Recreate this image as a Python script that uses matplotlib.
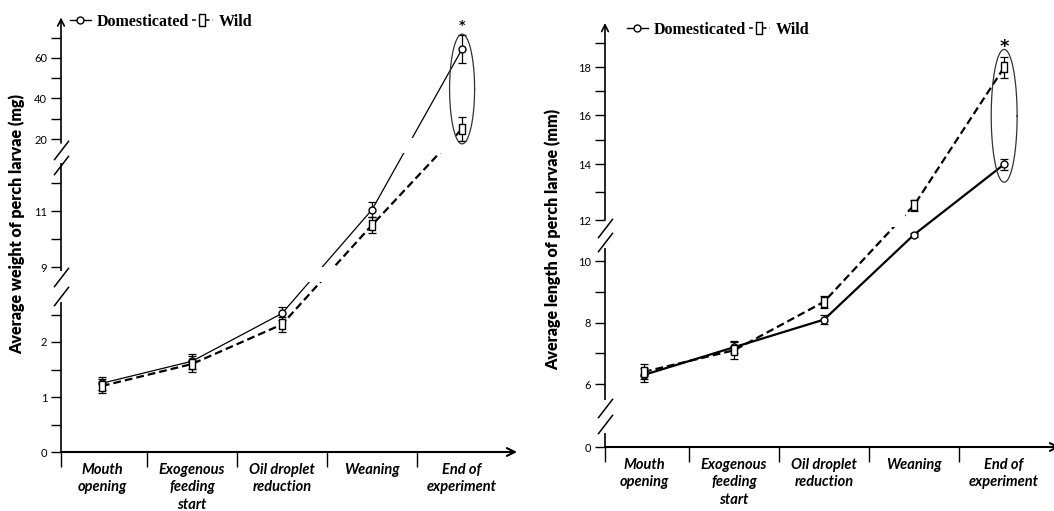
import numpy as np
import matplotlib
matplotlib.use('Agg')
import matplotlib.pyplot as plt
from matplotlib.lines import Line2D
from matplotlib.ticker import FixedLocator, NullFormatter

stages = ['Mouth\nopening', 'Exogenous\nfeeding\nstart', 'Oil droplet\nreduction',
          'Weaning', 'End of\nexperiment']

# weight (mg)
weight_dom = [1.25, 1.65, 2.52, 11.05, 64.4]
weight_dom_err = [0.12, 0.14, 0.12, 0.27, 7.0]
weight_wild = [1.2, 1.6, 2.32, 10.5, 25.0]
weight_wild_err = [0.12, 0.14, 0.14, 0.29, 5.7]

# length (mm)
length_dom = [6.3, 7.2, 8.1, 11.3, 14.0]
length_dom_err = [0.22, 0.2, 0.15, 0.1, 0.2]
length_wild = [6.4, 7.1, 8.68, 12.54, 18.0]
length_wild_err = [0.25, 0.28, 0.2, 0.2, 0.45]

weight_major = [0, 1, 2, 9, 11, 20, 40, 60]
weight_minor = [0.5, 1.5, 2.5, 10, 12, 30, 50, 70]
length_major = [0, 6, 8, 10, 12, 14, 16, 18]
length_minor = [7, 9, 13, 15, 17, 19]

# broken axis: value -> pixel height above the zero line
weight_knots_v = [0, 2.8, 9, 11, 12.8, 20, 60, 80]
weight_knots_d = [0, 154, 185, 241, 291, 313, 394, 434.5]
length_knots_v = [0, 5.4, 10, 12, 14, 16, 18, 20]
length_knots_d = [0, 44.5, 186, 227, 283, 332, 380, 428]


def make_scale(kv, kd):
    kv = np.asarray(kv, float)
    kd = np.asarray(kd, float)

    def pw(x, a, b):
        x = np.asarray(x, float)
        out = np.interp(x, a, b)
        s0 = (b[1] - b[0]) / (a[1] - a[0])
        s1 = (b[-1] - b[-2]) / (a[-1] - a[-2])
        out = np.where(x < a[0], b[0] + (x - a[0]) * s0, out)
        out = np.where(x > a[-1], b[-1] + (x - a[-1]) * s1, out)
        return out

    return (lambda v: pw(v, kv, kd)), (lambda d: pw(d, kd, kv))


serif = dict(family='Liberation Serif', weight='bold', size=11.5)
sans_bi = dict(family='Lato', weight='bold', style='italic', size=10.5)

rect = [(-0.55, -1), (0.55, -1), (0.55, 1), (-0.55, 1), (-0.55, -1)]
slash = [(-1, -1.3), (1, 1.3)]


def panel(ax, dom, dom_err, wild, wild_err, kv, kd, major, minor, ylabel,
          ytop, xlim, segs, arrow_from, slashes, bands, lw_dom, ell, star,
          label_xy, leg_anchor):
    fwd, inv = make_scale(kv, kd)
    ax.set_yscale('function', functions=(fwd, inv))
    x = np.arange(len(stages))
    ax.set_xlim(*xlim)
    ax.set_ylim(0, ytop)

    ax.plot(x, dom, '-', color='k', lw=lw_dom, zorder=2)
    ax.plot(x, wild, color='k', lw=1.6, ls=(0, (3.5, 1.8)), zorder=2)
    for b0, b1, xm in bands:
        ax.axhspan(inv(b0), inv(b1), xmin=0, xmax=xm, color='white', lw=0, zorder=2.5)
    ax.errorbar(x, dom, yerr=dom_err, fmt='none', ecolor='k', elinewidth=0.9,
                capsize=3, capthick=0.9, zorder=3)
    ax.errorbar(x, wild, yerr=wild_err, fmt='none', ecolor='k', elinewidth=0.9,
                capsize=3, capthick=0.9, zorder=3)
    ax.plot(x, dom, ls='none', marker='o', mfc='white', mec='k', ms=5, mew=1, zorder=4)
    ax.plot(x, wild, ls='none', marker=rect, mfc='white', mec='k', ms=7, mew=1, zorder=4)

    # ellipse around the last stage
    half_w, margin = ell
    d_hi, d_lo = fwd(max(dom[-1], wild[-1])), fwd(min(dom[-1], wild[-1]))
    c = (d_hi + d_lo) / 2
    r = (d_hi - d_lo) / 2 + margin
    t = np.linspace(0, 2 * np.pi, 300)
    ax.plot(x[-1] + half_w * np.cos(t), inv(c + r * np.sin(t)), color='#333333',
            lw=0.9, zorder=3)
    size, off = star
    ax.annotate('*', xy=(x[-1], inv(c + r)), xytext=(0, off), textcoords='offset points',
                ha='center', va='center', fontsize=size, fontweight='bold', zorder=5)

    # axes drawn by hand (broken y axis, arrows)
    for spine in ax.spines.values():
        spine.set_visible(False)
    yt = ax.get_yaxis_transform()
    for a, b in segs:
        ax.plot([0, 0], [inv(a), inv(b)], transform=yt, color='k', lw=1.2,
                clip_on=False, zorder=5, solid_capstyle='butt')
    ax.annotate('', xy=(0, ytop), xytext=(0, inv(arrow_from)),
                xycoords=('axes fraction', 'data'),
                arrowprops=dict(arrowstyle='->', lw=1.2, color='k',
                                shrinkA=0, shrinkB=0, mutation_scale=12), zorder=5)
    ax.plot([0] * len(slashes), inv(np.array(slashes, float)), transform=yt, ls='none',
            marker=slash, ms=14, mew=1.1, color='k', clip_on=False, zorder=5)
    ax.annotate('', xy=(xlim[1], 0), xytext=(xlim[0], 0), xycoords='data',
                arrowprops=dict(arrowstyle='->', lw=1.5, color='k',
                                shrinkA=0, shrinkB=0, mutation_scale=14),
                annotation_clip=False, zorder=5)

    ax.yaxis.set_major_locator(FixedLocator(major))
    ax.yaxis.set_minor_locator(FixedLocator(minor))
    ax.yaxis.set_minor_formatter(NullFormatter())
    ax.set_yticklabels([str(v) for v in major])
    ax.tick_params(axis='y', which='both', direction='out', length=7, width=1,
                   labelsize=8, pad=3, colors='k')
    for lab in ax.get_yticklabels():
        lab.set_family('Lato')

    ax.set_xticks(x)
    ax.set_xticklabels(stages, **sans_bi)
    for lab in ax.get_xticklabels():
        lab.set_linespacing(1.3)
    ax.set_xticks([xlim[0], 0.5, 1.5, 2.5, 3.5], minor=True)
    ax.tick_params(axis='x', which='major', length=0, pad=8)
    ax.tick_params(axis='x', which='minor', direction='out', length=11, width=1)

    ax.set_ylabel(ylabel, family='Lato', fontweight='heavy', fontsize=11.5)
    ax.yaxis.set_label_coords(*label_xy)

    handles = [Line2D([], [], color='k', lw=1, marker='o', mfc='white', mec='k', ms=5),
               Line2D([], [], color='k', lw=1.1, ls=(0, (2.5, 2)), marker=rect,
                      mfc='white', mec='k', ms=8)]
    ax.legend(handles, ['Domesticated', 'Wild'], ncol=2, loc='center left',
              bbox_to_anchor=leg_anchor, bbox_transform=ax.figure.transFigure,
              frameon=False, prop=serif, handlelength=1.3, handletextpad=0.4,
              columnspacing=0.15, borderpad=0, borderaxespad=0)


fig = plt.figure(figsize=(10.54, 5.11), dpi=100)
W, H = 1054, 511
ax1 = fig.add_axes([61 / W, (H - 452) / H, (517 - 61) / W, 434.5 / H])
ax2 = fig.add_axes([605 / W, (H - 447) / H, (1060 - 605) / W, 424 / H])

panel(ax1, weight_dom, weight_dom_err, weight_wild, weight_wild_err,
      weight_knots_v, weight_knots_d, weight_major, weight_minor,
      'Average weight of perch larvae (mg)', 80, (-0.455, 4.61),
      segs=[(0, 150), (181, 289)], arrow_from=309, slashes=[156, 175, 287, 302],
      bands=[(170, 185, 1), (299, 314, 1)], lw_dom=0.9, ell=(0.139, 15),
      star=(9, 6), label_xy=(-36 / 456, 0.525), leg_anchor=(70 / W, 1 - 22 / H))

panel(ax2, length_dom, length_dom_err, length_wild, length_wild_err,
      length_knots_v, length_knots_d, length_major, length_minor,
      'Average length of perch larvae (mm)', 19.85, (-0.433, 4.62),
      segs=[(0, 14), (47, 199)], arrow_from=227, slashes=[23, 39, 205, 219],
      bands=[(220, 234, 0.66)], lw_dom=1.6, ell=(0.144, 18),
      star=(13, 2), label_xy=(-44 / 455, 0.49), leg_anchor=(627 / W, 1 - 30 / H))

fig.savefig('out.png', dpi=100)
